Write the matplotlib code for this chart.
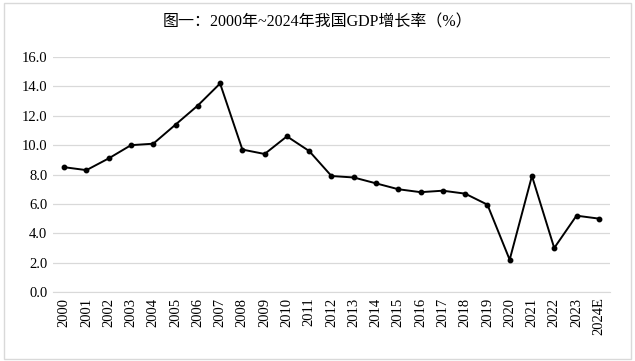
import matplotlib.pyplot as plt
from matplotlib.patches import Rectangle

plt.rcParams['font.family'] = ['Liberation Serif', 'Noto Sans CJK SC', 'DejaVu Sans']

# 年份与GDP增长率(%)
years = ['2000', '2001', '2002', '2003', '2004', '2005', '2006', '2007', '2008',
         '2009', '2010', '2011', '2012', '2013', '2014', '2015', '2016', '2017',
         '2018', '2019', '2020', '2021', '2022', '2023', '2024E']
growth = [8.5, 8.3, 9.1, 10.0, 10.1, 11.4, 12.7, 14.2, 9.7,
          9.4, 10.6, 9.6, 7.9, 7.8, 7.4, 7.0, 6.8, 6.9,
          6.7, 5.95, 2.2, 7.9, 3.0, 5.2, 5.0]
yticks = [0, 2, 4, 6, 8, 10, 12, 14, 16]

fig = plt.figure(figsize=(6.35, 3.61), dpi=100)
ax = fig.add_axes([0.0835, 0.191, 0.877, 0.651])

x = list(range(len(years)))
ax.plot(x, growth, color='black', lw=1.4, marker='o', ms=3.2, zorder=3)

ax.set_xlim(-0.5, len(years) - 0.5)
ax.set_ylim(0, 16)
ax.set_yticks(yticks)
ax.set_yticklabels(['%.1f' % v for v in yticks], fontsize=10.5)
ax.set_xticks(x)
ax.set_xticklabels(years, rotation=90, fontsize=10.5)
ax.tick_params(length=0, pad=4)
ax.grid(axis='y', color='#d9d9d9', lw=0.9)
ax.set_axisbelow(True)
for s in ['top', 'right', 'left']:
    ax.spines[s].set_visible(False)
ax.spines['bottom'].set_color('#d9d9d9')

fig.text(0.5, 0.938, '图一：2000年~2024年我国GDP增长率（%）', ha='center', va='center', fontsize=11.5)

# 外框
fig.patches.append(Rectangle((0.006, 0.006), 0.988, 0.985, transform=fig.transFigure,
                             fill=False, ec='#d9d9d9', lw=1))

fig.savefig('out.png', dpi=100)
